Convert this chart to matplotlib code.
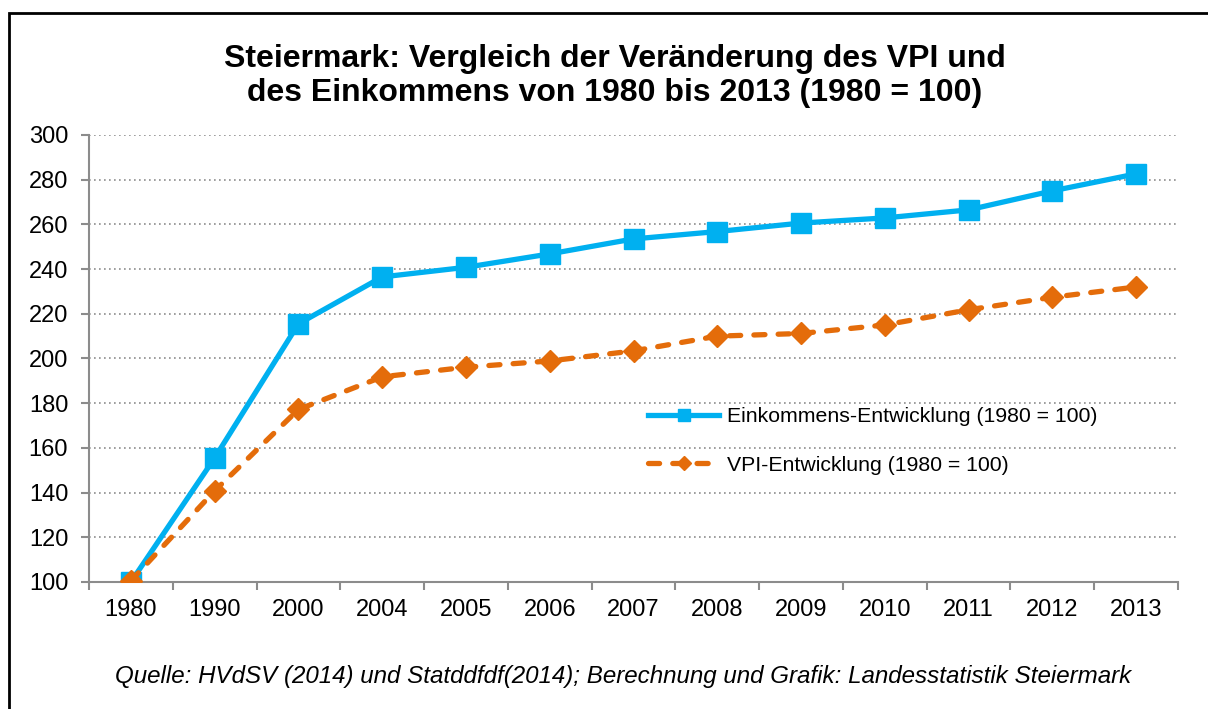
import matplotlib.pyplot as plt
import numpy as np
from matplotlib.patches import Rectangle

# =============================================================================
# Data
# =============================================================================

years = ['1980', '1990', '2000', '2004', '2005', '2006', '2007',
         '2008', '2009', '2010', '2011', '2012', '2013']
einkommen = [100, 155.5, 215.5, 236.5, 240.8, 246.8, 253.5,
             256.8, 260.6, 262.9, 266.5, 275, 282.6]
vpi = [100.5, 140.8, 177.2, 191.8, 196.1, 198.9, 203.4,
       210, 211.2, 215, 221.8, 227.4, 232]

title = ('Steiermark: Vergleich der Veränderung des VPI und\n'
         'des Einkommens von 1980 bis 2013 (1980 = 100)')
source = ('Quelle: HVdSV (2014) und Statddfdf(2014); '
          'Berechnung und Grafik: Landesstatistik Steiermark')

# =============================================================================
# Plot
# =============================================================================

plt.rcParams['font.family'] = ['Liberation Sans', 'DejaVu Sans']

blue = '#00b0f0'
orange = '#e46c0a'
axis_grey = '#8c8c8c'

fig = plt.figure(figsize=(12.08, 7.09), dpi=100)
W, H = 1208, 709
ax = fig.add_axes([89/W, 1 - 582/H, (1178-89)/W, (582-135)/H])

x = np.arange(len(years))
ax.plot(x, einkommen, color=blue, lw=3.8, marker='s', ms=14.5,
        label='Einkommens-Entwicklung (1980 = 100)', zorder=3)
ax.plot(x, vpi, color=orange, lw=3.8, ls=(0, (2.1, 2.5)), marker='D', ms=11.5,
        label='VPI-Entwicklung (1980 = 100)', zorder=4,
        dash_capstyle='round')

ax.set_xlim(-0.5, len(years) - 0.5)
ax.set_ylim(100, 300)
ax.set_yticks(range(100, 301, 20))
ax.set_xticks(x)
ax.set_xticklabels(years)
ax.set_xticks(np.arange(-0.5, len(years), 1), minor=True)

ax.tick_params(axis='x', which='major', length=0, labelsize=17, pad=12)
ax.tick_params(axis='x', which='minor', length=6, width=1.5, color=axis_grey,
               direction='out')
ax.tick_params(axis='y', length=6, width=1.5, color=axis_grey, labelsize=17,
               pad=9)

ax.grid(axis='y', ls=(0, (1, 2)), color='#8c8c8c', lw=1.2)
ax.set_axisbelow(True)
for s in ['top', 'right']:
    ax.spines[s].set_visible(False)
for s in ['left', 'bottom']:
    ax.spines[s].set_color(axis_grey)
    ax.spines[s].set_linewidth(1.5)

leg = ax.legend(loc='center left', bbox_to_anchor=(629/W, 1 - 441/H),
                bbox_transform=fig.transFigure, frameon=False,
                fontsize=15.3, handlelength=3.35, labelspacing=1.4,
                handletextpad=0.35, markerscale=0.6)

fig.text(615/W, 1 - 76/H, title, ha='center', va='center', fontsize=23,
         fontweight='bold', linespacing=1.2)
fig.text(623/W, 1 - 677/H, source, ha='center', va='center', fontsize=17.4,
         style='italic')

fig.add_artist(Rectangle((8.5/W, -0.1), 1.2, 1 - 12.5/H + 0.1,
                         transform=fig.transFigure, fill=False,
                         ec='black', lw=2))

plt.savefig('out.png', dpi=100)
